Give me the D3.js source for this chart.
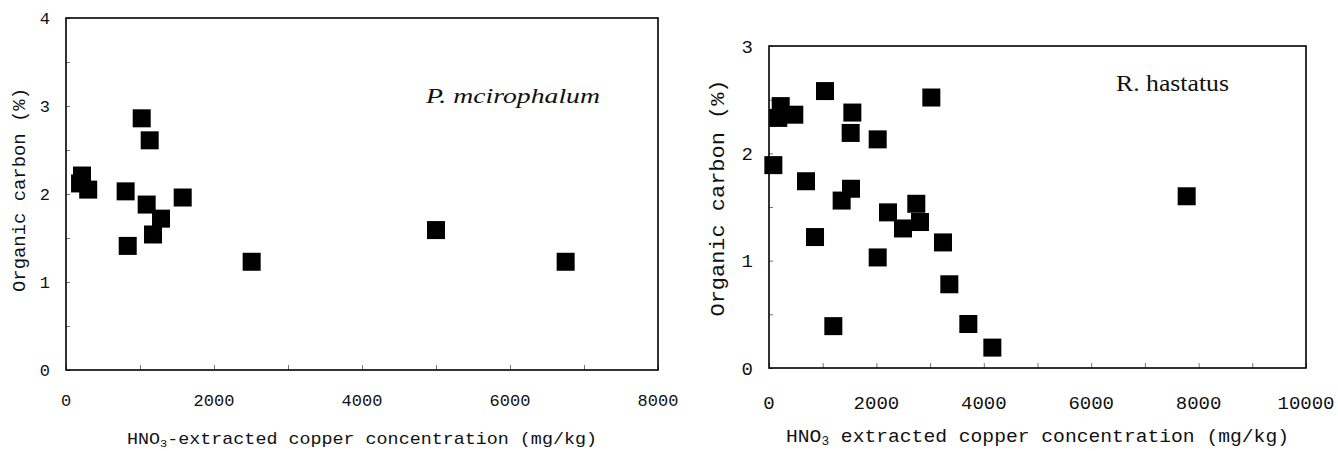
<!DOCTYPE html>
<html lang="en">
<head>
    <meta charset="UTF-8">
    <title>Organic carbon vs copper</title>
    <style>
        body { margin: 0; background: #fff; }
        svg text { fill: #111; }
    </style>
</head>
<body>
<svg id="chart" width="1338" height="451"></svg>
<script src="https://cdn.jsdelivr.net/npm/d3@7"></script>
<script>
  // P. mcirophalum
  var leftCu = [190, 216, 300, 806, 834, 1023, 1090, 1131, 1176, 1284, 1577, 2509, 5000, 6752]
  var leftOC = [2.12, 2.21, 2.05, 2.03, 1.41, 2.86, 1.88, 2.61, 1.54, 1.72, 1.96, 1.23, 1.59, 1.23]
  var leftXTicks = [0, 2000, 4000, 6000, 8000]
  var leftYTicks = [0, 1, 2, 3, 4]

  // R. hastatus
  var rightCu = [81, 173, 218, 471, 1043, 1552, 1521, 2024, 3023, 689, 1527, 1353,
    2216, 2743, 2812, 2495, 857, 2024, 3240, 3358, 1198, 3712, 4159, 7778]
  var rightOC = [1.89, 2.33, 2.44, 2.36, 2.58, 2.38, 2.19, 2.13, 2.52, 1.74, 1.67, 1.56,
    1.45, 1.53, 1.36, 1.30, 1.22, 1.03, 1.17, 0.78, 0.39, 0.41, 0.19, 1.60]
  var rightXTicks = [0, 2000, 4000, 6000, 8000, 10000]
  var rightYTicks = [0, 1, 2, 3]

  var svg = d3.select('#chart')
  var mono = '"Liberation Mono", "DejaVu Sans Mono", monospace'
  var serif = '"Liberation Serif", "DejaVu Serif", serif'

  function drawPanel (p) {
    var x = d3.scaleLinear().domain(p.xDomain).range([p.left, p.right])
    var y = d3.scaleLinear().domain(p.yDomain).range([p.bottom, p.top])
    var g = svg.append('g')

    // small inward ticks
    var xMinor = d3.range(p.xDomain[0], p.xDomain[1] + 1, 1000)
    var yMinor = d3.range(p.yDomain[0], p.yDomain[1] + 0.01, 0.5)
    g.append('g')
      .attr('transform', 'translate(0,' + p.bottom + ')')
      .call(d3.axisBottom(x).tickValues(xMinor).tickSize(-5).tickFormat(''))
      .call(function (a) { a.select('.domain').remove(); a.selectAll('line').attr('stroke', '#777') })
    g.append('g')
      .attr('transform', 'translate(' + p.left + ',0)')
      .call(d3.axisLeft(y).tickValues(yMinor).tickSize(-4).tickFormat(''))
      .call(function (a) { a.select('.domain').remove(); a.selectAll('line').attr('stroke', '#777') })

    // tick labels
    g.selectAll('.xl').data(p.xTicks).enter().append('text')
      .attr('x', function (d) { return x(d) })
      .attr('y', p.bottom + p.xLabelOff)
      .attr('text-anchor', 'middle')
      .style('font-family', mono).style('font-size', p.tickSize + 'px')
      .text(function (d) { return d })
    g.selectAll('.yl').data(p.yTicks).enter().append('text')
      .attr('x', p.left - 16)
      .attr('y', function (d) { return y(d) })
      .attr('dy', '0.35em')
      .attr('text-anchor', 'end')
      .style('font-family', mono).style('font-size', p.tickSize + 'px')
      .text(function (d) { return d })

    // frame
    g.append('rect')
      .attr('x', p.left).attr('y', p.top)
      .attr('width', p.right - p.left).attr('height', p.bottom - p.top)
      .attr('fill', 'none').attr('stroke', '#000').attr('stroke-width', 1.6)

    // points
    var s = 18
    g.selectAll('.pt').data(p.cu).enter().append('rect')
      .attr('x', function (d) { return x(d) - s / 2 })
      .attr('y', function (d, i) { return y(p.oc[i]) - s / 2 })
      .attr('width', s).attr('height', s)
      .attr('fill', '#000')

    // x title with subscript
    var xt = g.append('text')
      .attr('x', (p.left + p.right) / 2)
      .attr('y', p.xTitleY)
      .attr('text-anchor', 'middle')
      .attr('textLength', p.xTitleLen).attr('lengthAdjust', 'spacingAndGlyphs')
      .style('font-family', mono).style('font-size', p.titleSize + 'px')
    xt.append('tspan').text('HNO')
    xt.append('tspan').attr('dy', 3).style('font-size', (p.titleSize * 0.65) + 'px').text('3')
    xt.append('tspan').attr('dy', -3).text(p.xTitleRest)

    // y title
    g.append('text')
      .attr('transform', 'translate(' + p.yTitleX + ',' + p.yTitleY + ') rotate(-90)')
      .attr('text-anchor', 'middle')
      .attr('textLength', p.yTitleLen).attr('lengthAdjust', 'spacingAndGlyphs')
      .style('font-family', mono).style('font-size', p.yTitleSize + 'px')
      .text('Organic carbon (%)')

    // species label
    g.append('text')
      .attr('x', p.labelX).attr('y', p.labelY)
      .attr('textLength', p.labelLen).attr('lengthAdjust', 'spacingAndGlyphs')
      .style('font-family', serif).style('font-size', p.labelSize + 'px')
      .style('font-style', p.italic ? 'italic' : 'normal')
      .text(p.label)
  }

  drawPanel({
    left: 66, right: 658, top: 18, bottom: 370,
    xDomain: [0, 8000], yDomain: [0, 4],
    xTicks: leftXTicks, yTicks: leftYTicks,
    cu: leftCu, oc: leftOC,
    tickSize: 17, xLabelOff: 36,
    titleSize: 17, xTitleY: 444, xTitleLen: 470, xTitleRest: '-extracted copper concentration (mg/kg)',
    yTitleX: 25, yTitleY: 190, yTitleLen: 204, yTitleSize: 18,
    label: 'P. mcirophalum', labelX: 426, labelY: 103, labelLen: 174, labelSize: 21, italic: true
  })

  drawPanel({
    left: 769, right: 1306, top: 46, bottom: 368,
    xDomain: [0, 10000], yDomain: [0, 3],
    xTicks: rightXTicks, yTicks: rightYTicks,
    cu: rightCu, oc: rightOC,
    tickSize: 19, xLabelOff: 41,
    titleSize: 19, xTitleY: 442, xTitleLen: 503, xTitleRest: ' extracted copper concentration (mg/kg)',
    yTitleX: 724, yTitleY: 198, yTitleLen: 237, yTitleSize: 20,
    label: 'R. hastatus', labelX: 1116, labelY: 91, labelLen: 113, labelSize: 23, italic: false
  })
</script>
</body>
</html>
